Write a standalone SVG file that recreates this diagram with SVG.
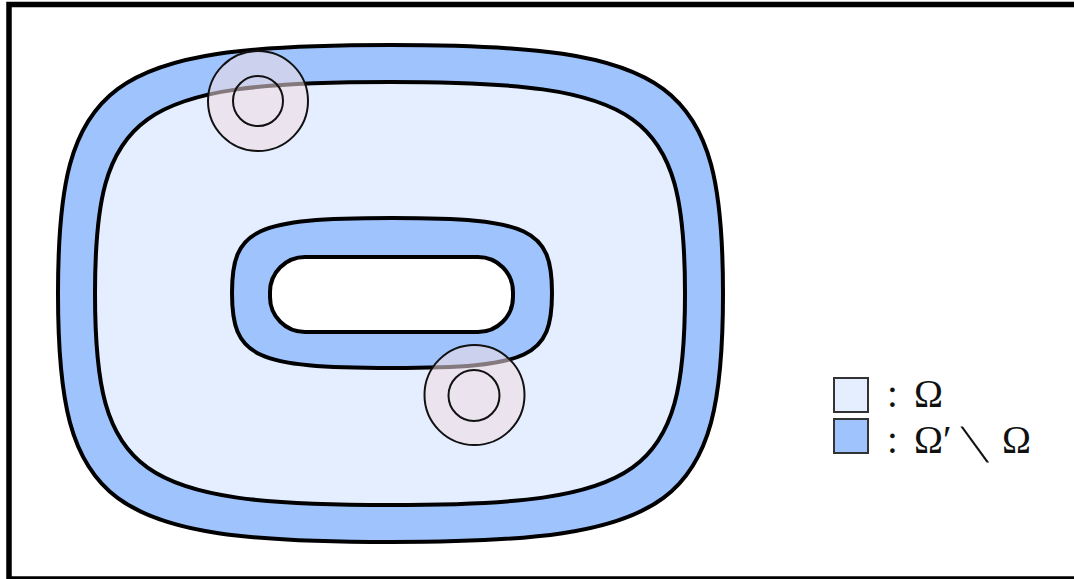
<svg xmlns="http://www.w3.org/2000/svg" width="1074" height="579" viewBox="0 0 1074 579">
<style>
.band{fill:#9fc4fd;stroke:#000;stroke-width:4}
.light{fill:#e4eefe;stroke:#000;stroke-width:4}
.hole{fill:#ffffff;stroke:#000;stroke-width:4}
.disk{fill:#f0dce2;fill-opacity:0.55;stroke:#111;stroke-width:2}
.ring{fill:none;stroke:#111;stroke-width:2}
.lab{font-family:"Liberation Serif","DejaVu Serif",serif;font-size:39px;fill:#111}
.bs{font-size:54px}
.sq{stroke:#333;stroke-width:2}
</style>
<rect x="0" y="0" width="1074" height="579" fill="#fff"/>
<rect x="9" y="4.5" width="1075" height="574.5" fill="none" stroke="#000" stroke-width="5.5"/>
<g id="domain">
<path class="band" d="M723,293.5 C723,80 675,45 390.5,45 C106,45 58,80 58,293.5 C58,507 106,542 390.5,542 C675,542 723,507 723,293.5 Z"/>
<path class="light" d="M685,293.5 C685,111 643,82 390,82 C137,82 95,111 95,293.5 C95,476 137,505 390,505 C643,505 685,476 685,293.5 Z"/>
<path class="band" d="M552,293 C552,229 530,218 392,218 C254,218 232,229 232,293 C232,357 254,368 392,368 C530,368 552,357 552,293 Z"/>
<rect class="hole" x="270" y="257" width="243" height="75" rx="35" ry="35"/>
</g>
<g id="ball1">
<circle class="disk" cx="258" cy="101" r="50"/>
<circle class="ring" cx="258" cy="101" r="25"/>
</g>
<g id="ball2">
<circle class="disk" cx="474.5" cy="395" r="50"/>
<circle class="ring" cx="474" cy="395.5" r="25.5"/>
</g>
<g id="legend">
<rect class="sq" x="834" y="378" width="34" height="34" fill="#e4eefe"/>
<rect class="sq" x="834" y="419" width="34" height="34" fill="#9fc4fd"/>
<text class="lab" y="407"><tspan x="887">:</tspan><tspan x="914">Ω</tspan></text>
<text class="lab" y="453"><tspan x="887">:</tspan><tspan x="914">Ω′</tspan></text>
<text class="lab bs" transform="translate(974,462) skewX(21)" x="0" y="0">\</text>
<text class="lab" x="1002" y="453">Ω</text>
</g>
</svg>
